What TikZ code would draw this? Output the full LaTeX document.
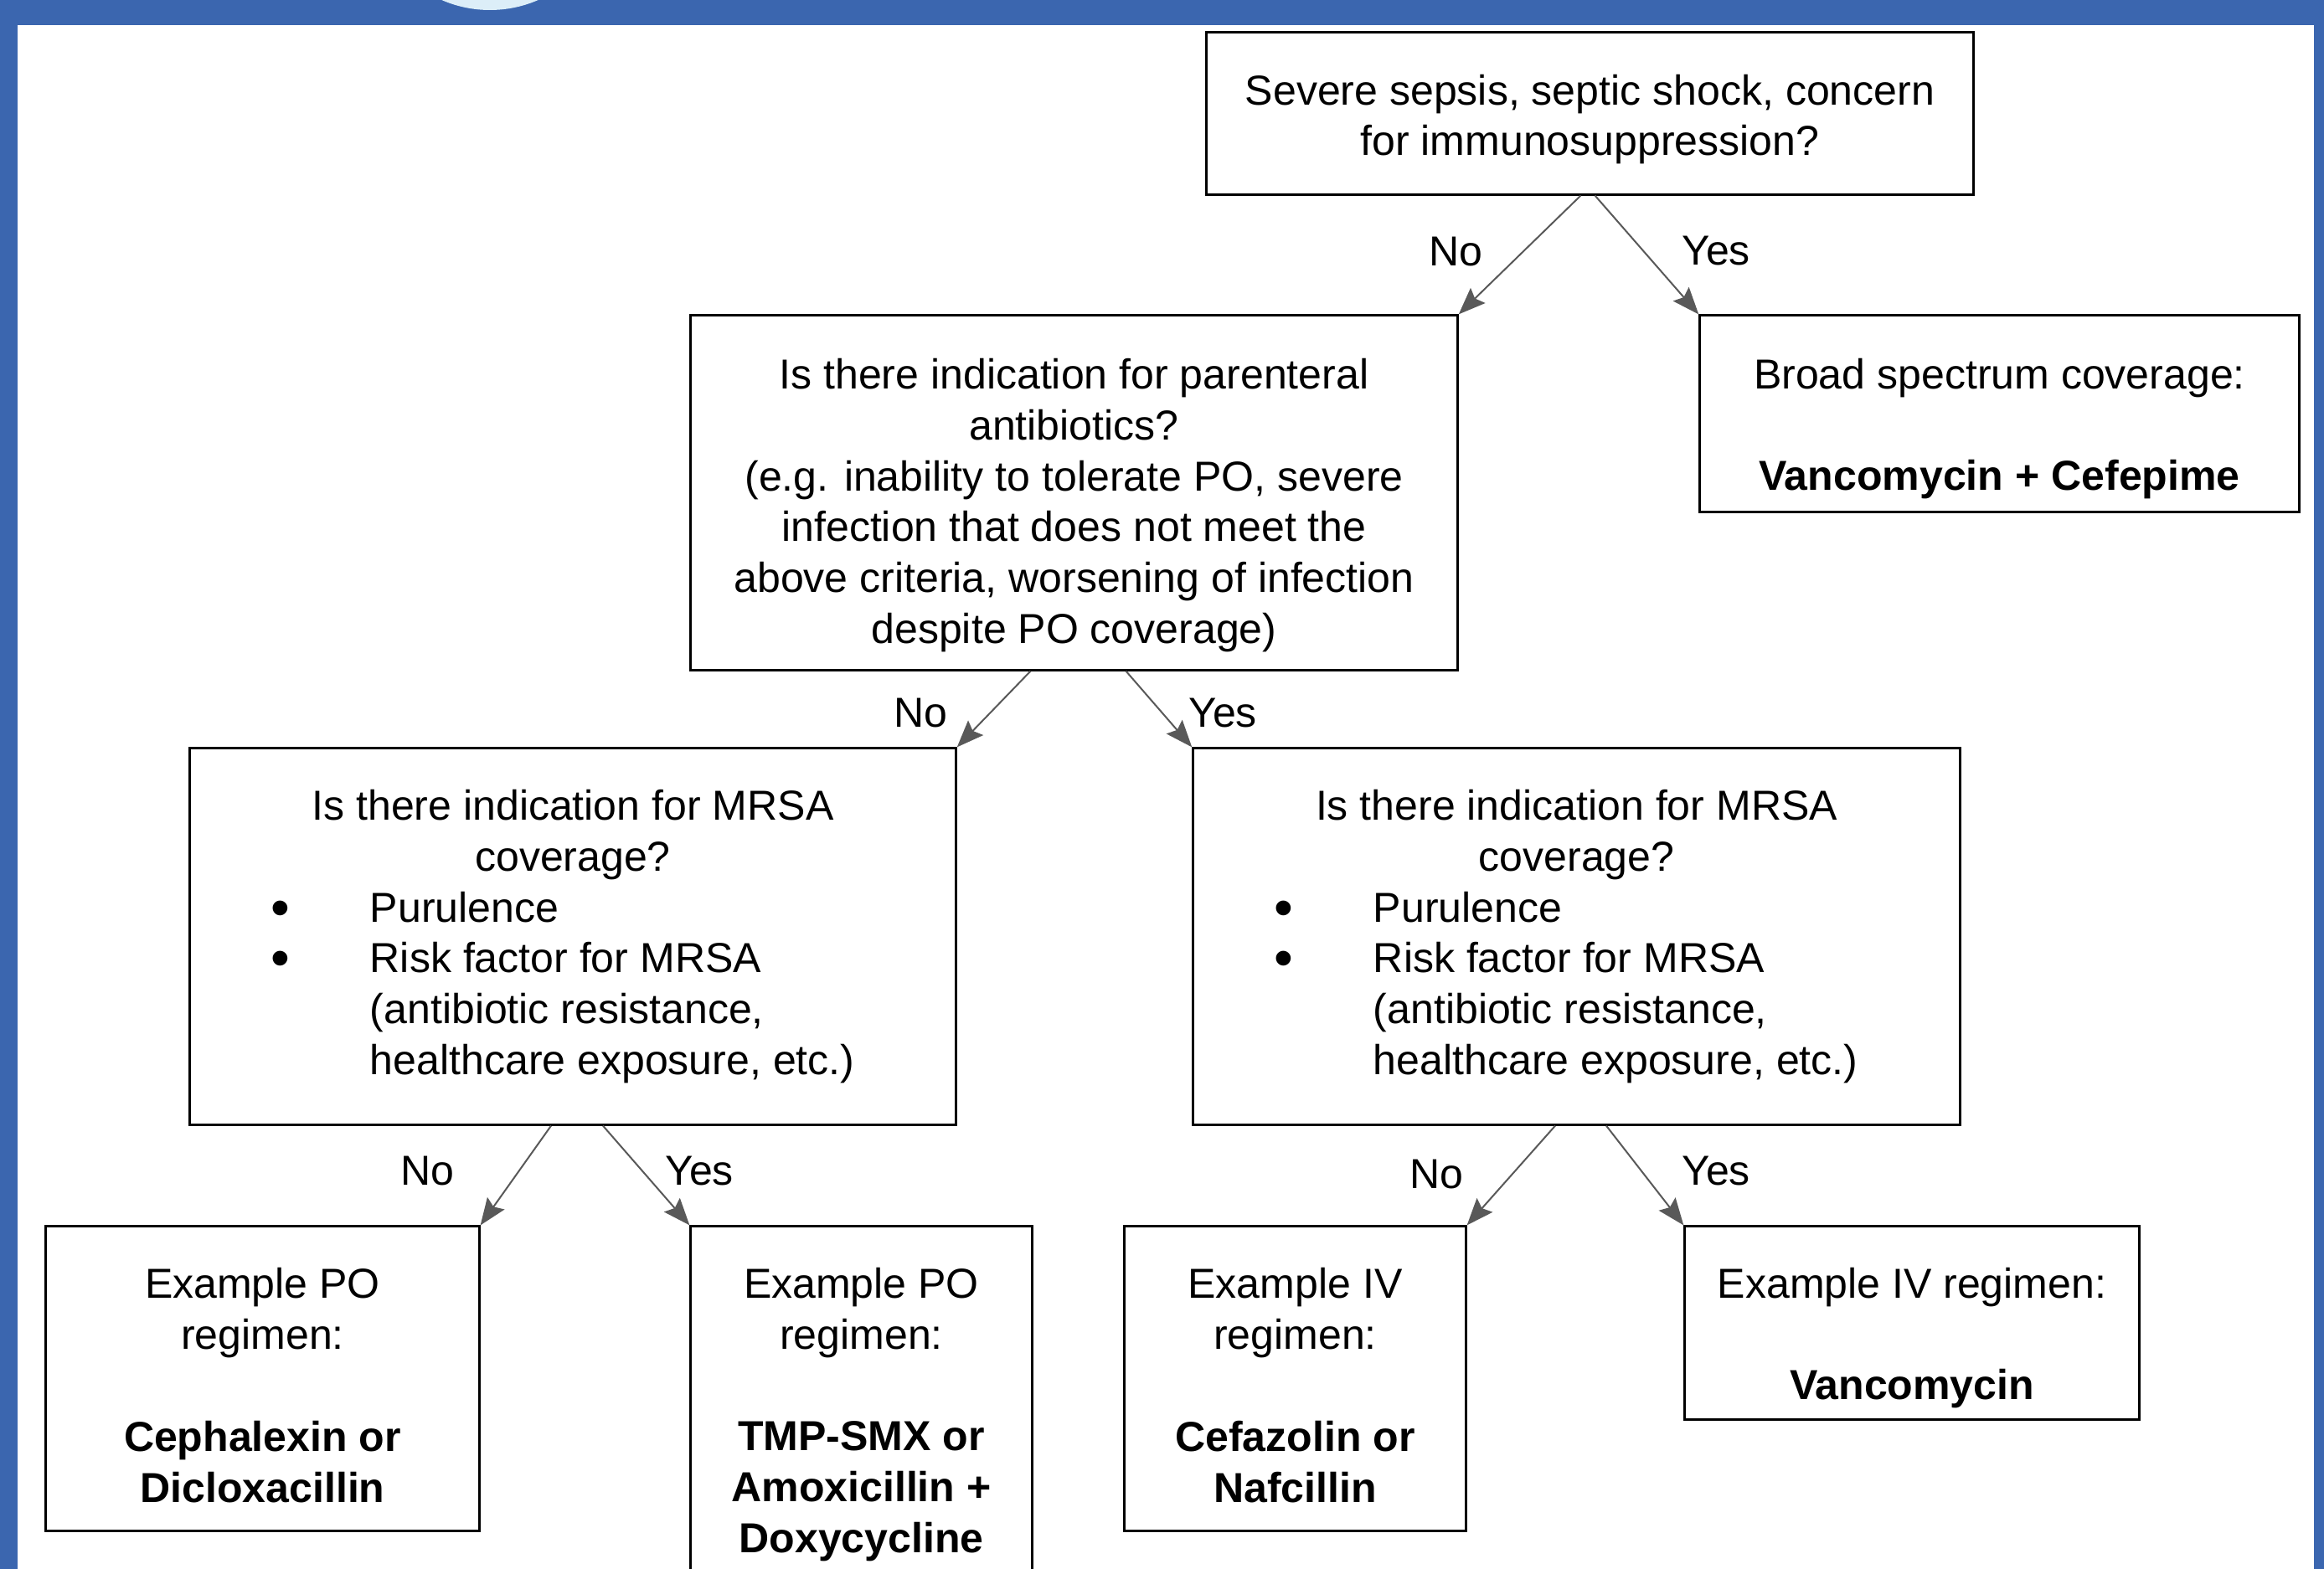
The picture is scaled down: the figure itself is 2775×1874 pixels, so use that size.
\documentclass[tikz,border=0pt]{standalone}
\usepackage{fontspec}
\usepackage{graphicx}
\setmainfont{Liberation Sans}
\usetikzlibrary{arrows.meta}
\definecolor{frameblue}{HTML}{3B66AF}
\definecolor{circleblue}{HTML}{DCEEF8}
\definecolor{arrgray}{HTML}{595959}
\newcommand{\bulitem}{\leavevmode\llap{\makebox[1.18cm][l]{\raisebox{-0.05cm}{\scalebox{1.3}{\textbullet}}}}}
% text block shifted down by #1 inside its box, keeping the node size
\newcommand{\shiftblock}[3]{\raisebox{-#1}[\height][\depth]{\parbox{#2}{\centering #3}}}
\begin{document}
\begin{tikzpicture}[x=0.01cm,y=-0.01cm,
  box/.style={draw=black, line width=0.03cm, inner sep=0pt,
    font=\fontsize{14.23pt}{17.3pt}\selectfont},
  lbl/.style={inner sep=0pt, text height=0.358cm, text depth=0pt,
    font=\fontsize{14.23pt}{17.3pt}\selectfont},
  arr/.style={draw=arrgray, line width=0.02cm,
    -{Stealth[length=0.32cm,width=0.25cm,inset=0.05cm]}}
]
\useasboundingbox (0,0) rectangle (2775,1874);
\clip (0,0) rectangle (2775,1874);
\fill[frameblue] (0,0) rectangle (2775,1874);
\fill[white] (21,30) rectangle (2763,1900);
\fill[circleblue] (585,-132) circle[radius=144];

% boxes
\node[box, minimum width=9.15cm, minimum height=1.93cm] (top) at (1898.5,135.5)
  {\shiftblock{0.07cm}{8.9cm}{Severe sepsis, septic shock, concern\\ for immunosuppression?}};
\node[box, minimum width=9.15cm, minimum height=4.23cm] (par) at (1282.5,588.5)
  {\shiftblock{0.15cm}{8.9cm}{Is there indication for parenteral\\ antibiotics?\\ (e.g. inability to tolerate PO, severe\\ infection that does not meet the\\ above criteria, worsening of infection\\ despite PO coverage)}};
\node[box, minimum width=7.15cm, minimum height=2.34cm] (broad) at (2387.5,494)
  {\shiftblock{0.18cm}{6.9cm}{Broad spectrum coverage:\\[17.3pt] \textbf{Vancomycin + Cefepime}}};

\node[box, minimum width=9.14cm, minimum height=4.49cm] (mrsaL) at (684,1118.5)
  {\begin{minipage}{9.14cm}
   \centering Is there indication for MRSA\\ coverage?\par
   \raggedright\leftskip=2.15cm\relax
   \bulitem Purulence\par
   \bulitem Risk factor for MRSA\\ (antibiotic resistance,\\ healthcare exposure, etc.)\par
   \end{minipage}};
\node[box, minimum width=9.15cm, minimum height=4.49cm] (mrsaR) at (1882.5,1118.5)
  {\begin{minipage}{9.15cm}
   \centering Is there indication for MRSA\\ coverage?\par
   \raggedright\leftskip=2.15cm\relax
   \bulitem Purulence\par
   \bulitem Risk factor for MRSA\\ (antibiotic resistance,\\ healthcare exposure, etc.)\par
   \end{minipage}};

\node[box, minimum width=5.17cm, minimum height=3.63cm] (poL) at (313.5,1646.5)
  {\shiftblock{0.08cm}{4.97cm}{Example PO\\ regimen:\\[17.3pt] \textbf{Cephalexin or\\ Dicloxacillin}}};
\node[box, minimum width=4.07cm, minimum height=4.29cm] (poR) at (1028.5,1679.5)
  {\shiftblock{0.10cm}{3.9cm}{Example PO\\ regimen:\\[17.3pt] \textbf{TMP-SMX or\\ Amoxicillin +\\ Doxycycline}}};
\node[box, minimum width=4.07cm, minimum height=3.63cm] (ivL) at (1546.5,1646.5)
  {\shiftblock{0.08cm}{3.9cm}{Example IV\\ regimen:\\[17.3pt] \textbf{Cefazolin or\\ Nafcillin}}};
\node[box, minimum width=5.42cm, minimum height=2.30cm] (ivR) at (2283,1580)
  {\shiftblock{0.18cm}{5.2cm}{Example IV regimen:\\[17.3pt] \textbf{Vancomycin}}};

% connectors
\draw[arr] ([xshift=-0.11cm]top.south) -- (par.north east);
\draw[arr] ([xshift=0.06cm]top.south) -- (broad.north west);
\draw[arr] ([xshift=-0.52cm]par.south) -- (mrsaL.north east);
\draw[arr] ([xshift=0.62cm]par.south) -- (mrsaR.north west);
\draw[arr] ([xshift=-0.26cm]mrsaL.south) -- (poL.north east);
\draw[arr] ([xshift=0.36cm]mrsaL.south) -- (poR.north west);
\draw[arr] ([xshift=-0.255cm]mrsaR.south) -- (ivL.north east);
\draw[arr] ([xshift=0.355cm]mrsaR.south) -- (ivR.north west);

% labels
\node[lbl] (no1) at (1738,300) {No};
\node[lbl] (yes1) at (2049,299) {Yes};
\node[lbl] (no2) at (1099,851) {No};
\node[lbl] (yes2) at (1460,851) {Yes};
\node[lbl] (no3) at (510,1398) {No};
\node[lbl] (yes3) at (835,1398) {Yes};
\node[lbl] (no4) at (1715,1402) {No};
\node[lbl] (yes4) at (2049,1398) {Yes};
\end{tikzpicture}
\end{document}
